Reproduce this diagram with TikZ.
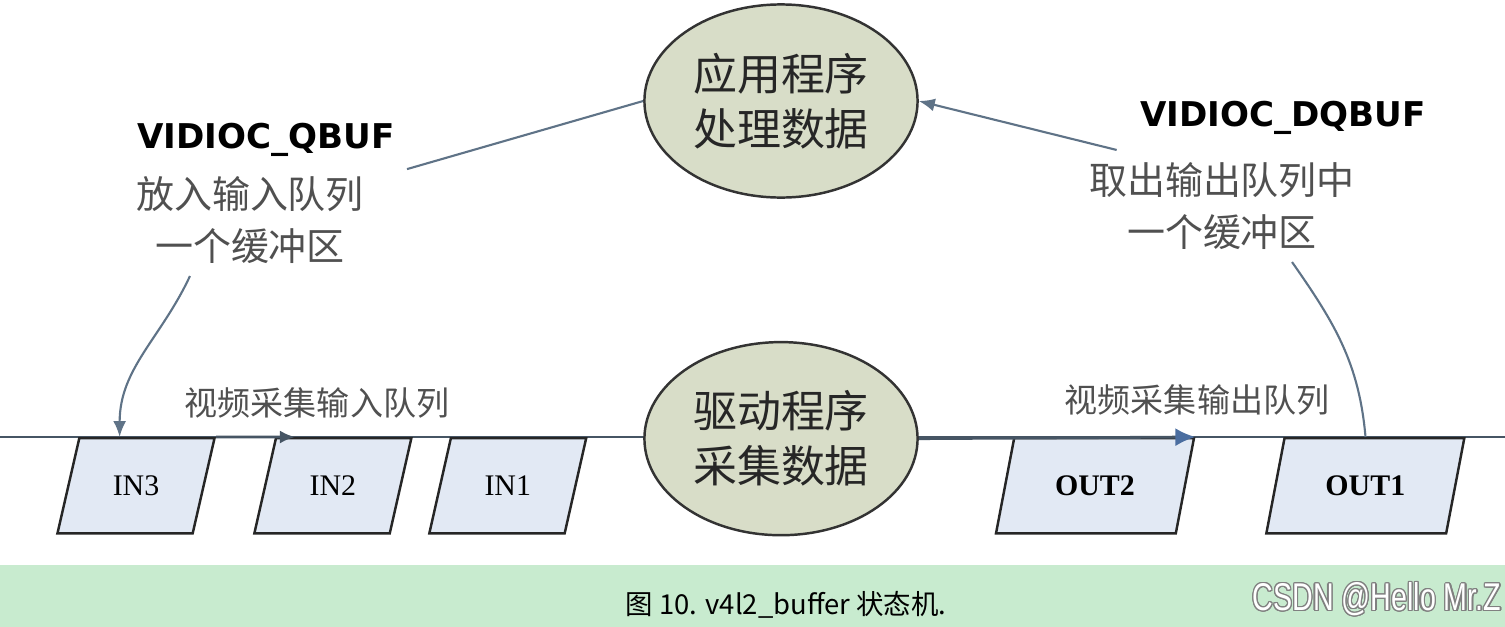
\documentclass[tikz,border=0pt]{standalone}
\usepackage{fontspec}
\usepackage{tikz}
\usetikzlibrary{shapes.geometric,positioning,arrows.meta,calc}
\usepackage{contour}
\setmainfont{Liberation Serif}
\newfontfamily\cjk{Noto Sans CJK SC}
\newfontfamily\dejav{DejaVu Sans}
\newfontfamily\wmfont{Liberation Sans}
\definecolor{linecol}{RGB}{70,85,100}
\definecolor{conncol}{RGB}{95,115,135}
\definecolor{tipblue}{RGB}{75,110,160}
\definecolor{procfill}{RGB}{216,221,200}
\definecolor{buffill}{RGB}{226,233,244}
\definecolor{txtgray}{RGB}{80,80,80}
\definecolor{band}{RGB}{200,235,207}
\contourlength{0.35pt}
\tikzset{
  >={Latex[length=1.6mm,width=1.3mm]},
  proc/.style={ellipse,draw=black!80,line width=0.7pt,fill=procfill,
    minimum width=2.73cm,minimum height=1.93cm,inner sep=0pt,align=center,
    text=black!85,font=\cjk\fontsize{12.5}{15.6}\selectfont},
  buf/.style={trapezium,trapezium left angle=66,trapezium right angle=114,
    trapezium stretches=true,draw=black!85,line width=0.7pt,fill=buffill,
    minimum width=1.57cm,minimum height=0.95cm,inner sep=0pt,
    font=\fontsize{8.5}{10}\selectfont},
  outbuf/.style={buf,minimum width=1.98cm,font=\bfseries\fontsize{8.5}{10}\selectfont},
  call/.style={font=\dejav\bfseries\fontsize{9.7}{12}\selectfont},
  note/.style={align=center,text=txtgray,font=\cjk\fontsize{10.8}{14.8}\selectfont},
  queue/.style={text=txtgray,font=\cjk\fontsize{9.4}{11}\selectfont},
  conn/.style={draw=conncol,line width=0.6pt},
  mainline/.style={draw=linecol,line width=0.8pt},
}

\begin{document}
\begin{tikzpicture}[x=0.01cm,y=-0.01cm]
\useasboundingbox (0,0) rectangle (1505,627);
\fill[band] (0,565) rectangle (1505,627);

% queue line
\coordinate (lineW) at (0,437);
\coordinate (lineE) at (1505,437);
\draw[mainline] (lineW) -- (lineE);

\node[proc] (app) at (781,101) {应用程序\\处理数据};
\node[proc,below=1.42cm of app] (drv) {驱动程序\\采集数据};

\node[buf,anchor=north] (in3) at (136,437) {IN3};
\node[buf,right=0.59cm of in3] (in2) {IN2};
\node[buf,right=0.37cm of in2] (in1) {IN1};
\node[outbuf,anchor=north] (out2) at (1095,437) {OUT2};
\node[outbuf,right=0.88cm of out2] (out1) {OUT1};

\node[queue] (inq) at (317,403) {视频采集输入队列};
\node[queue] (outq) at (1197,400) {视频采集输出队列};

\node[call] (qb) at (266,140) {VIDIOC\_QBUF};
\node[note] (qbt) at (250,220) {放入输入队列\\一个缓冲区};
\node[call] (dqb) at (1283,118) {VIDIOC\_DQBUF};
\node[note] (dqbt) at (1222,206) {取出输出队列中\\一个缓冲区};

\draw[mainline,-{Latex[length=1.5mm,width=1.3mm]}] (in3.top right corner) -- ([xshift=0.2cm]in2.top left corner);
\draw[mainline,-{Latex[length=2mm,width=1.8mm,color=tipblue]}] (drv.east) -- (out2.top right corner);

\draw[conn] (app.west) -- (qb.south east);
\draw[conn,->] ([xshift=-0.6cm]qbt.south) to[out=-115,in=90]
  ($(in3.top left corner)!.3!(in3.top right corner)$);
\draw[conn] ($(out1.top left corner)!.45!(out1.top right corner)$)
  to[out=95,in=-55] ([xshift=0.7cm]dqbt.south);
\draw[conn,->] ([xshift=0.4cm]dqbt.north west) -- (app.east);

% caption
\node[font=\cjk\fontsize{7.8}{9}\selectfont] (cap) at (786,605) {图 10. v4l2\_buffer 状态机.};
\node[font=\wmfont\fontsize{11}{13}\selectfont] (wm) at (1377,600)
  {\contour{gray}{\color{white}\scalebox{0.74}[1]{CSDN @Hello Mr.Z}}};
\end{tikzpicture}
\end{document}
